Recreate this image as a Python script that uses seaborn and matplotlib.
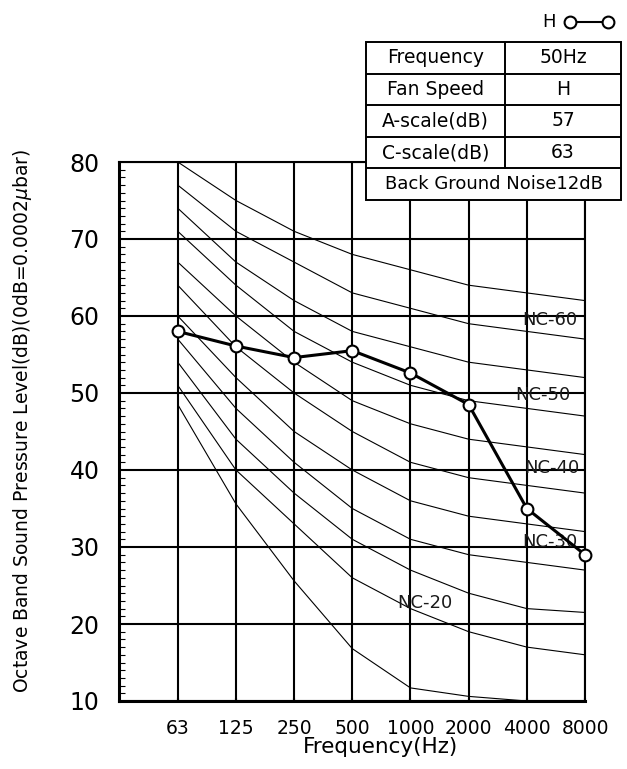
import numpy as np
import pandas as pd
import seaborn as sns
import matplotlib.pyplot as plt
from matplotlib.lines import Line2D
from matplotlib.ticker import MultipleLocator

# octave band centre frequencies
freqs = ["63", "125", "250", "500", "1000", "2000", "4000", "8000"]

# measured sound pressure level, fan speed H
level_h = [58.0, 56.1, 54.6, 55.5, 52.6, 48.5, 35.0, 29.0]

# NC reference curves (dB per octave band)
nc_curves = {
    "NC-15": [48.5, 35.6, 25.6, 16.8, 11.7, 10.6, 10.0],
    "NC-20": [51, 40, 33, 26, 22, 19, 17, 16],
    "NC-25": [54, 44, 37, 31, 27, 24, 22, 21.5],
    "NC-30": [57, 48, 41, 35, 31, 29, 28, 27],
    "NC-35": [60, 52, 45, 40, 36, 34, 33, 32],
    "NC-40": [64, 56, 50, 45, 41, 39, 38, 37],
    "NC-45": [67, 60, 54, 49, 46, 44, 43, 42],
    "NC-50": [71, 64, 58, 54, 51, 49, 48, 47],
    "NC-55": [74, 67, 62, 58, 56, 54, 53, 52],
    "NC-60": [77, 71, 67, 63, 61, 59, 58, 57],
    "NC-65": [80, 75, 71, 68, 66, 64, 63, 62],
}

# curve labels and where they sit (band index, dB)
nc_labels = ["NC-60", "NC-50", "NC-40", "NC-30", "NC-20"]
nc_label_x = [6.4, 6.27, 6.43, 6.4, 4.25]
nc_label_y = [59.5, 49.8, 40.2, 30.7, 22.7]

# info table
table_keys = ["Frequency", "Fan Speed", "A-scale(dB)", "C-scale(dB)"]
table_vals = ["50Hz", "H", "57", "63"]
table_note = "Back Ground Noise12dB"


def main():
    sns.set_theme(style="white")
    plt.rcParams["font.family"] = ["DejaVu Sans"]
    plt.rcParams["text.color"] = "black"
    plt.rcParams["axes.labelcolor"] = "black"

    W, H = 627, 769
    fig = plt.figure(figsize=(W / 100, H / 100), dpi=100)
    ax = fig.add_axes([119 / W, 1 - 701 / H, (585 - 119) / W, (701 - 162) / H])

    rows = []
    for name, vals in nc_curves.items():
        for i, v in enumerate(vals):
            rows.append({"band": i, "level": v, "curve": name})
    nc_df = pd.DataFrame(rows)

    sns.lineplot(data=nc_df, x="band", y="level", units="curve", estimator=None,
                 color="black", linewidth=0.8, ax=ax, zorder=3)

    meas = pd.DataFrame({"band": np.arange(len(freqs)), "level": level_h})
    sns.lineplot(data=meas, x="band", y="level", color="black", linewidth=2.2,
                 marker="o", markersize=8.5, markerfacecolor="white",
                 markeredgecolor="black", markeredgewidth=1.5, ax=ax, zorder=5,
                 clip_on=False)

    for lab, lx, ly in zip(nc_labels, nc_label_x, nc_label_y):
        ax.text(lx, ly, lab, ha="center", va="center", fontsize=13,
                color="#1a1a1a", zorder=4)

    ax.set_xlim(-1.01, 7)
    ax.set_ylim(10, 80)
    ax.set_xticks(np.arange(len(freqs)))
    ax.set_xticklabels(freqs)
    ax.set_yticks(np.arange(10, 81, 10))
    ax.yaxis.set_minor_locator(MultipleLocator(1))

    ax.grid(True, which="major", color="black", linewidth=1.5)
    ax.set_axisbelow(True)
    ax.tick_params(axis="y", which="major", length=0, pad=14, labelsize=17,
                   colors="black")
    ax.tick_params(axis="y", which="minor", left=True, direction="in",
                   length=4.3, width=0.8, color="black")
    ax.tick_params(axis="x", which="major", bottom=True, direction="in",
                   length=2.5, width=1.5, pad=13, labelsize=13.5, colors="black")

    for side in ["left", "bottom"]:
        ax.spines[side].set_linewidth(2.2)
        ax.spines[side].set_color("black")
    for side in ["top", "right"]:
        ax.spines[side].set_linewidth(1.5)
        ax.spines[side].set_color("black")

    ax.set_xlabel("Frequency(Hz)", fontsize=15.5)
    ax.set_ylabel("Octave Band Sound Pressure Level(dB)(0dB=0.0002$\\mu$bar)",
                  fontsize=13.5)
    ax.xaxis.set_label_coords(0.562, -0.066)
    ax.yaxis.set_label_coords(-0.182, 0.52)

    # info table drawn on top of the chart
    tx0, tx1, ty0, ty1 = 366, 621, 42, 200
    tax = fig.add_axes([tx0 / W, 1 - ty1 / H, (tx1 - tx0) / W, (ty1 - ty0) / H])
    tax.set_xlim(0, 1)
    tax.set_ylim(0, 5)
    tax.axis("off")
    tax.add_patch(plt.Rectangle((0, 0), 1, 5, facecolor="white",
                                edgecolor="black", linewidth=1.4, clip_on=False))
    split = (505 - tx0) / (tx1 - tx0)
    for r in range(1, 5):
        tax.plot([0, 1], [r, r], color="black", linewidth=1.4)
    tax.plot([split, split], [1, 5], color="black", linewidth=1.4)
    for i, (k, v) in enumerate(zip(table_keys, table_vals)):
        yc = 4.5 - i
        tax.text(split / 2, yc, k, ha="center", va="center", fontsize=13.5)
        tax.text((split + 1) / 2, yc, v, ha="center", va="center", fontsize=13.5)
    tax.text(0.5, 0.5, table_note, ha="center", va="center", fontsize=13)

    # legend key: H o--o
    ly = 1 - 21.7 / H
    fig.add_artist(Line2D([570 / W, 608 / W], [ly, ly], transform=fig.transFigure,
                          color="black", linewidth=1.5, marker="o", markersize=8.5,
                          markerfacecolor="white", markeredgecolor="black",
                          markeredgewidth=1.5))
    fig.text(549 / W, ly, "H", ha="center", va="center", fontsize=13)

    fig.savefig("out.png", dpi=100)


if __name__ == "__main__":
    main()
